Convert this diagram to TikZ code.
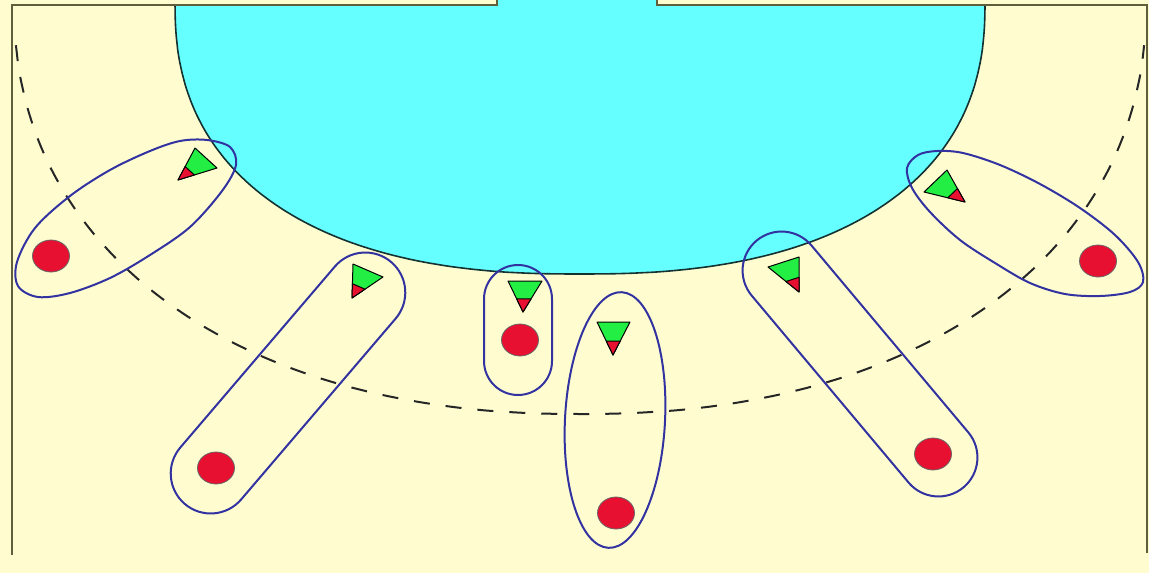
\documentclass[tikz,border=0pt]{standalone}
\usetikzlibrary{shapes.misc,shapes.geometric,calc}
\definecolor{bgcream}{RGB}{255,253,208}
\definecolor{goalcyan}{RGB}{102,255,255}
\definecolor{courtline}{RGB}{95,95,60}
\definecolor{arcline}{RGB}{20,50,50}
\definecolor{loopblue}{RGB}{50,50,160}
\definecolor{playred}{RGB}{232,16,48}
\definecolor{defgreen}{RGB}{34,238,68}
\newcommand\dfnd[4]{%
  \coordinate (#1a) at #2; \coordinate (#1b) at #3; \coordinate (#1t) at #4;
  \draw[defbody] (#1a) -- (#1b) -- (#1t) -- cycle;
  \draw[deftip] (#1t) -- ($(#1t)!0.42!(#1a)$) -- ($(#1t)!0.42!(#1b)$) -- cycle;}
\begin{document}
\begin{tikzpicture}[x=0.5pt,y=-0.5pt,
  court/.style={draw=courtline,line width=1.2pt},
  ninem/.style={draw=black!85,line width=1pt,dash pattern=on 8pt off 8pt},
  loopline/.style={draw=loopblue,line width=1pt},
  loopnode/.style={rounded rectangle,draw=loopblue,line width=1pt,inner sep=0pt},
  loopegg/.style={ellipse,draw=loopblue,line width=1pt,inner sep=0pt},
  attacker/.style={ellipse,draw=black!60,fill=playred,line width=0.4pt,
    minimum width=18.5pt,minimum height=16pt,inner sep=0pt},
  defbody/.style={fill=defgreen,draw=black,line width=0.5pt,line join=round},
  deftip/.style={fill=playred,draw=black,line width=0.5pt,line join=round}]
\useasboundingbox (0,0) rectangle (1149,573);
\fill[bgcream] (0,0) rectangle (1149,573);
% goal area
\fill[goalcyan] (175,0) -- (985,0)
  -- plot[variable=\t,domain=0.5:89.5,samples=80,smooth]
     ({580+405*pow(cos(\t),0.8333)},{274*pow(sin(\t),0.8333)})
  -- (580,274)
  -- plot[variable=\t,domain=90.5:179.5,samples=80,smooth]
     ({580-405*pow(-cos(\t),0.8333)},{274*pow(sin(\t),0.8333)})
  -- cycle;
\draw[arcline,line width=0.8pt]
  plot[variable=\t,domain=0.5:89.5,samples=80,smooth]
     ({580+405*pow(cos(\t),0.8333)},{274*pow(sin(\t),0.8333)})
  -- (580,274)
  -- plot[variable=\t,domain=90.5:179.5,samples=80,smooth]
     ({580-405*pow(-cos(\t),0.8333)},{274*pow(sin(\t),0.8333)});
\fill[bgcream] (0,0) rectangle (497,5);
\fill[bgcream] (657,0) rectangle (1149,5);
% court lines
\draw[court] (12,555) -- (12,5) -- (497,5) -- (497,0);
\draw[court] (1147,553) -- (1147,5) -- (657,5) -- (657,0);
% 9 m line
\draw[ninem]
  plot[variable=\t,domain=175:90.5,samples=70,smooth]
     ({580-566*pow(-cos(\t),0.909)},{414*pow(sin(\t),0.909)})
  -- (580,414)
  -- plot[variable=\t,domain=89.5:5,samples=70,smooth]
     ({580+566*pow(cos(\t),0.909)},{414*pow(sin(\t),0.909)});
% pairing loops
\draw[loopline] plot[smooth cycle,tension=0.55] coordinates {
  (207,140) (230,147) (236,165) (222,191) (190,227) (150,255) (110,278)
  (70,293) (38,297) (18,286) (17,262) (35,228) (70,196) (110,170)
  (150,151) (180,141)};
\node[loopnode,minimum width=159pt,minimum height=40pt,rotate=49.5] (L2) at (288,383) {};
\node[loopnode,minimum width=65pt,minimum height=34pt,rotate=90] (L3) at (518,330) {};
\node[loopegg,minimum width=50pt,minimum height=128pt,rotate=-3] (L4) at (615,420) {};
\node[loopnode,minimum width=161pt,minimum height=39pt,rotate=-50] (L5) at (860,364) {};
\draw[loopline] plot[smooth cycle,tension=0.55] coordinates {
  (907,168) (918,155) (937,151) (963,153) (1000,165) (1040,184) (1080,208)
  (1115,235) (1138,262) (1143,282) (1130,292) (1100,296) (1065,294)
  (1030,283) (995,263) (960,240) (930,212) (912,188)};
% attackers
\node[attacker] (A1) at (51,256) {};
\node[attacker] (A2) at (216,468) {};
\node[attacker] (A3) at (520,340) {};
\node[attacker] (A4) at (616,513) {};
\node[attacker] (A5) at (933,454) {};
\node[attacker] (A6) at (1098,261) {};
% defenders
\dfnd{d1}{(195,148)}{(217,168)}{(178,180)}
\dfnd{d2}{(353,264)}{(383,277)}{(352,298)}
\dfnd{d3}{(508,281)}{(542,281)}{(523,312)}
\dfnd{d4}{(597,322)}{(630,322)}{(613,355)}
\dfnd{d5}{(768,267)}{(799,257)}{(799,292)}
\dfnd{d6}{(947,170)}{(924,192)}{(965,202)}
\end{tikzpicture}
\end{document}
